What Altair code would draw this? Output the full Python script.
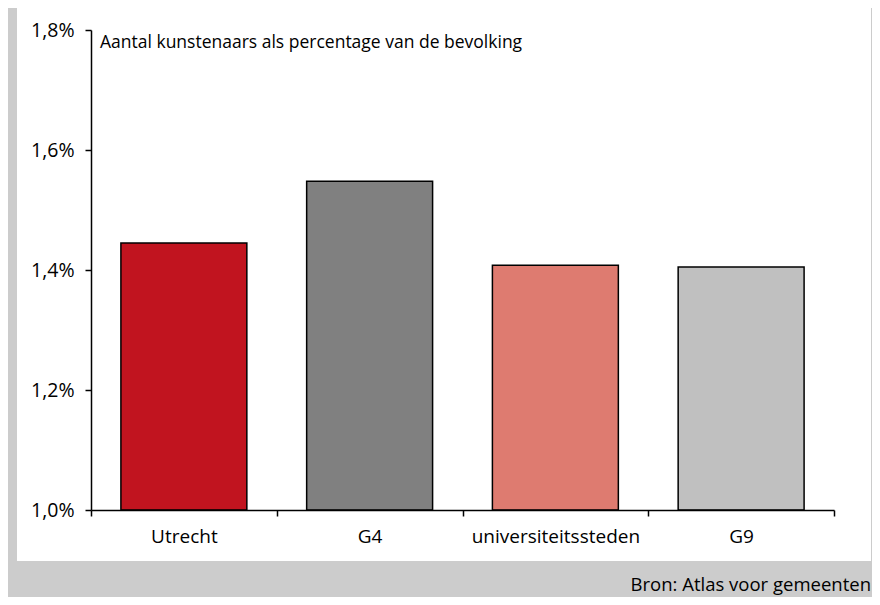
import altair as alt
import pandas as pd

categories = ["Utrecht", "G4", "universiteitssteden", "G9"]
values = [1.445, 1.548, 1.408, 1.405]
colors = ["#c1141f", "#808080", "#de7b70", "#c0c0c0"]
y_ticks = [1.0, 1.2, 1.4, 1.6, 1.8]
title_text = "Aantal kunstenaars als percentage van de bevolking"
source_text = "Bron: Atlas voor gemeenten"

df = pd.DataFrame({"cat": categories, "val": values})
one = pd.DataFrame({"t": [title_text], "s": [source_text]})

FONT = "Open Sans"

panel = alt.Chart(one).mark_rect(color="white").encode(
    x=alt.value(-74), x2=alt.value(780), y=alt.value(-22), y2=alt.value(531)
)

bars = alt.Chart(df).mark_bar(
    stroke="black", strokeWidth=1.5, width=alt.RelativeBandSize(0.678)
).encode(
    x=alt.X(
        "cat:N",
        sort=categories,
        scale=alt.Scale(paddingInner=0, paddingOuter=0),
        axis=alt.Axis(
            title=None,
            labelAngle=0,
            tickBand="extent",
            tickSize=6,
            tickWidth=1.5,
            tickColor="black",
            domainColor="black",
            domainWidth=1.5,
            labelFontSize=19,
            labelColor="black",
            labelFont=FONT,
            labelPadding=11,
            zindex=1,
        ),
    ),
    y=alt.Y(
        "val:Q",
        scale=alt.Scale(domain=[1.0, 1.8], zero=False, nice=False),
        axis=alt.Axis(
            title=None,
            values=y_ticks,
            labelExpr="replace(format(datum.value, '.1f'), '.', ',') + '%'",
            grid=False,
            tickSize=6,
            tickWidth=1.5,
            tickColor="black",
            domainColor="black",
            domainWidth=1.5,
            labelFontSize=19.5,
            labelColor="black",
            labelFont=FONT,
            labelPadding=11,
            zindex=1,
        ),
    ),
    y2=alt.datum(1.0),
    color=alt.Color("cat:N", scale=alt.Scale(domain=categories, range=colors), legend=None),
)

title = alt.Chart(one).mark_text(
    align="left", baseline="alphabetic", fontSize=17.5, font=FONT, color="black"
).encode(x=alt.value(9), y=alt.value(18), text="t:N")

source = alt.Chart(one).mark_text(
    align="right", baseline="alphabetic", fontSize=18.5, font=FONT, color="black"
).encode(x=alt.value(780), y=alt.value(561), text="s:N")

chart = alt.layer(panel, bars, title, source).properties(
    width=743,
    height=480,
    autosize=alt.AutoSizeParams(type="none"),
    padding={"left": 83, "top": 22, "right": 38, "bottom": 87},
).configure(background="#cccccc", font=FONT).configure_view(stroke=None)

chart.save("out.html", embed_options={"renderer": "svg", "actions": False})
